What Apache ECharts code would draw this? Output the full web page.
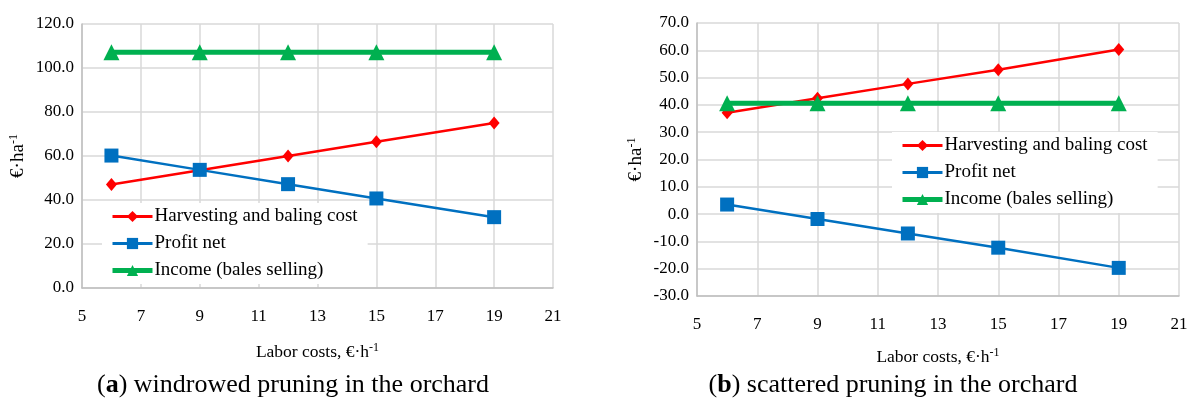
<!DOCTYPE html>
<html>
<head>
<meta charset="utf-8">
<script src="https://cdn.jsdelivr.net/npm/echarts@6/dist/echarts.min.js"></script>
<style>html,body{margin:0;padding:0;background:#fff}#c{width:1195px;height:403px}</style>
</head>
<body>
<div id="c"></div>
<script>
var laborCosts = [6, 9, 12, 15, 19];
var seriesNames = ['Harvesting and baling cost', 'Profit net', 'Income (bales selling)'];
// (a) windrowed pruning
var harvestA = [47.0, 53.5, 60.0, 66.5, 75.0];
var profitA  = [60.2, 53.7, 47.2, 40.7, 32.2];
var incomeA  = [107.2, 107.2, 107.2, 107.2, 107.2];
// (b) scattered pruning
var harvestB = [37.1, 42.4, 47.7, 52.9, 60.3];
var profitB  = [3.5, -1.8, -7.1, -12.3, -19.7];
var incomeB  = [40.6, 40.6, 40.6, 40.6, 40.6];
var captions = [['a', 'windrowed pruning in the orchard'], ['b', 'scattered pruning in the orchard']];

var FONT = 'Liberation Serif';
var colors = ['#ff0000', '#0070c0', '#00b050'];
var symbols = ['diamond', 'rect', 'triangle'];
var symSizes = [[11, 13], 14, 16];
var widths = [2.5, 2.5, 5];
var legWidths = [3, 3, 5];

function pairs(ys) { return laborCosts.map(function (x, i) { return [x, ys[i]]; }); }

var grids = [
  {left: 82, top: 24, width: 471, height: 264},
  {left: 697, top: 23, width: 482, height: 273}
];
var gridCol = '#d9d9d9';
function xAx(i) {
  return {
    type: 'value', gridIndex: i, min: 5, max: 21, interval: 2,
    name: '{n|Labor costs, €·h}{s|-1}', nameLocation: 'middle', nameGap: i === 0 ? 54 : 51,
    nameTextStyle: {rich: {n: {fontFamily: FONT, fontSize: 17.5, color: '#000', verticalAlign: 'bottom', lineHeight: 19}, s: {fontFamily: FONT, fontSize: 12, color: '#000', verticalAlign: 'top', lineHeight: 19}}},
    axisLine: {onZero: false, lineStyle: {color: '#bfbfbf', width: 1.5}},
    axisTick: {show: false},
    splitLine: {show: true, lineStyle: {color: gridCol, width: 1.5}},
    axisLabel: {fontFamily: FONT, fontSize: 17, color: '#000', margin: 20}
  };
}
function yAx(i, min, max, step) {
  return {
    type: 'value', gridIndex: i, min: min, max: max, interval: step,
    name: '{n|€·ha}{s|-1}', nameLocation: 'middle', nameGap: i === 0 ? 54 : 51, nameRotate: 90,
    nameTextStyle: {rich: {n: {fontFamily: FONT, fontSize: 19, color: '#000', verticalAlign: 'bottom', lineHeight: 20}, s: {fontFamily: FONT, fontSize: 12, color: '#000', verticalAlign: 'top', lineHeight: 20}}},
    axisLine: {show: true, lineStyle: {color: '#bfbfbf', width: 1.5}},
    axisTick: {show: false},
    splitLine: {show: true, lineStyle: {color: gridCol, width: 1.5}},
    axisLabel: {fontFamily: FONT, fontSize: 17, color: '#000', margin: 8, formatter: function (v) { return v.toFixed(1); }}
  };
}
function mk(name, k, gi, ys) {
  return {
    type: 'line', name: name, xAxisIndex: gi, yAxisIndex: gi, data: pairs(ys),
    symbol: symbols[k], symbolSize: symSizes[k], showSymbol: true,
    lineStyle: {color: colors[k], width: widths[k]},
    itemStyle: {color: colors[k]},
    emphasis: {disabled: true}, animation: false, z: 3 + k
  };
}
var series = [
  mk(seriesNames[0], 0, 0, harvestA), mk(seriesNames[1], 1, 0, profitA), mk(seriesNames[2], 2, 0, incomeA),
  mk(seriesNames[0], 0, 1, harvestB), mk(seriesNames[1], 1, 1, profitB), mk(seriesNames[2], 2, 1, incomeB)
];
function leg(left, top) {
  return {
    data: seriesNames.map(function (n, k) {
      return {name: n, lineStyle: {width: legWidths[k], color: colors[k]}};
    }),
    orient: 'vertical', left: left, top: top,
    itemWidth: 40, itemHeight: 14, itemGap: 8,
    backgroundColor: '#fff', padding: [4, 10, 4, 8],
    textStyle: {fontFamily: FONT, fontSize: 19, color: '#000', padding: [0, 0, 0, -3]},
    selectedMode: false
  };
}
var chart = echarts.init(document.getElementById('c'), null, {renderer: 'canvas'});
chart.setOption({
  backgroundColor: '#fff',
  animation: false,
  grid: grids,
  xAxis: [xAx(0), xAx(1)],
  yAxis: [yAx(0, 0, 120, 20), yAx(1, -30, 70, 10)],
  legend: [leg(102, 203), leg(892, 132)],
  title: captions.map(function (c, i) {
    return {
      text: '{p|(}{b|' + c[0] + '}{p|) ' + c[1] + '}',
      left: i === 0 ? 288 : 888, top: 367, textAlign: 'center',
      textStyle: {rich: {p: {fontFamily: FONT, fontSize: 26, fontWeight: 'normal', color: '#000'}, b: {fontFamily: FONT, fontSize: 26, fontWeight: 'bold', color: '#000'}}}
    };
  }),
  series: series
});
</script>
</body>
</html>
